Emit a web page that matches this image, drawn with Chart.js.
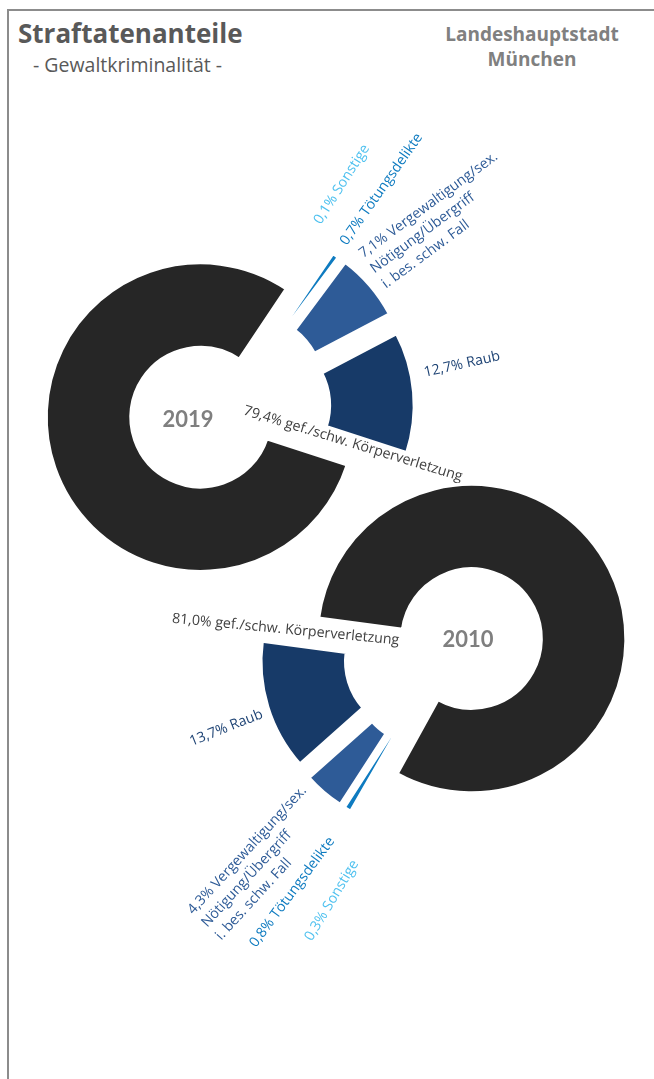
<!DOCTYPE html>
<html>
<head>
<meta charset="utf-8">
<script src="https://cdn.jsdelivr.net/npm/chart.js@4.4.1/dist/chart.umd.min.js"></script>
<style>
  html, body { margin: 0; padding: 0; background: #fff; }
  #page { position: relative; width: 654px; height: 1079px; overflow: hidden; font-family: "Open Sans", sans-serif; }
  .frame { position: absolute; left: 7px; top: 9px; width: 645px; height: 1200px;
           border-left: 2px solid #8c8c8c; border-top: 2px solid #8c8c8c; border-right: 1px solid #bdbdbd; }
  .title { position: absolute; left: 18px; top: 20px; font-size: 26px; line-height: 26px; font-weight: bold; color: #595959; }
  .subtitle { position: absolute; left: 33px; top: 54.5px; font-size: 19.5px; line-height: 19.5px; color: #595959; }
  .city { position: absolute; left: 432px; top: 22px; width: 200px; text-align: center;
          font-size: 19px; line-height: 25px; font-weight: bold; color: #808080; }
  canvas { position: absolute; left: 0; top: 0; }
</style>
</head>
<body>
<div id="page">
  <div class="frame"></div>
  <div class="title">Straftatenanteile</div>
  <div class="subtitle">- Gewaltkriminalität -</div>
  <div class="city">Landeshauptstadt<br>München</div>
  <canvas id="chart2019" width="654" height="1079"></canvas>
  <canvas id="chart2010" width="654" height="1079"></canvas>
</div>
<script>
// Categories in drawing order (clockwise, starting with the big slice)
const categories = ['gef./schw. Körperverletzung', 'Sonstige', 'Tötungsdelikte', 'Vergewaltigung/sex.', 'Raub'];
// extra label lines for the long category
const extraLines = [[], [], [], ['Nötigung/Übergriff', 'i. bes. schw. Fall'], []];

const shares2019 = [79.4, 0.1, 0.7, 7.1, 12.7];
const shares2010 = [81.0, 0.3, 0.8, 4.3, 13.7];

const sliceColors = ['#262626', '#56C3F0', '#0E7BC0', '#2E5B97', '#173A68'];
const labelColors = ['#404040', '#4FC1EF', '#0E7BC0', '#2E5B97', '#1F4475'];

const W = 654, H = 1079;

// where each donut sits and how its slices / labels are placed
const setup2019 = {
  cx: 227, cy: 408, rotation: 108,
  explode: [28, 33, 33, 34, 33],
  yearOffset: [-39, 12],
  labelPos: [[15.7, 6.3, 17], [93.7, -183, -57.5], [119.7, -162, -55], [136.3, -149.7, -36.5], [198, -31.3, -12.5]]
};
const setup2010 = {
  cx: 443, cy: 653, rotation: 277.6,
  explode: [32, 29, 29, 29, 29],
  yearOffset: [25, -13],
  labelPos: [[-271.3, -30.3, 5.5], [-131.3, 288.7, -59], [-187, 295, -53.5], [-249.7, 262, -47.5], [-251.3, 93, -21.6]]
};

function fmt(v) {
  return v.toFixed(1).replace('.', ',') + '%';
}

// draws every slice pushed out along its own middle angle
const explodePlugin = {
  id: 'explode',
  beforeDatasetDraw(chart, args, opts) {
    const ctx = chart.ctx;
    args.meta.data.forEach((arc, i) => {
      const mid = (arc.startAngle + arc.endAngle) / 2;
      const d = opts.amounts[i] || 0;
      ctx.save();
      ctx.translate(Math.cos(mid) * d, Math.sin(mid) * d);
      arc.draw(ctx);
      ctx.restore();
    });
    return false;
  }
};

// rotated slice labels plus the year in the middle
const labelPlugin = {
  id: 'sliceLabels',
  afterDatasetsDraw(chart, args, opts) {
    const ctx = chart.ctx;
    const meta = chart.getDatasetMeta(0);
    const values = chart.data.datasets[0].data;
    const cx = meta.data[0].x, cy = meta.data[0].y;
    meta.data.forEach((arc, i) => {
      const p = opts.positions[i];
      const lines = [fmt(values[i]) + ' ' + chart.data.labels[i]].concat(extraLines[i]);
      ctx.save();
      ctx.translate(cx + p[0], cy + p[1]);
      ctx.rotate(p[2] * Math.PI / 180);
      ctx.font = '14.2px "Open Sans", sans-serif';
      ctx.fillStyle = labelColors[i];
      ctx.textAlign = 'left';
      ctx.textBaseline = 'alphabetic';
      lines.forEach((t, k) => ctx.fillText(t, 0, k * 19));
      ctx.restore();
    });
    ctx.save();
    ctx.font = 'bold 22px Lato, "Open Sans", sans-serif';
    ctx.fillStyle = '#7f7f7f';
    ctx.textAlign = 'center';
    ctx.textBaseline = 'middle';
    ctx.fillText(opts.year, cx + opts.yearOffset[0], cy + opts.yearOffset[1]);
    ctx.restore();
  }
};

function makeDonut(id, year, shares, s) {
  new Chart(document.getElementById(id), {
    type: 'doughnut',
    data: {
      labels: categories,
      datasets: [{
        data: shares,
        backgroundColor: sliceColors,
        borderColor: '#ffffff',
        borderWidth: 3.5
      }]
    },
    options: {
      responsive: false,
      animation: false,
      events: [],
      rotation: s.rotation,
      cutout: '45%',
      radius: 154.5,
      layout: {
        padding: { left: s.cx - 200, right: W - s.cx - 200, top: s.cy - 200, bottom: H - s.cy - 200 }
      },
      plugins: {
        legend: { display: false },
        tooltip: { enabled: false },
        explode: { amounts: s.explode },
        sliceLabels: { positions: s.labelPos, year: year, yearOffset: s.yearOffset }
      }
    },
    plugins: [explodePlugin, labelPlugin]
  });
}

makeDonut('chart2019', '2019', shares2019, setup2019);
makeDonut('chart2010', '2010', shares2010, setup2010);
</script>
</body>
</html>
